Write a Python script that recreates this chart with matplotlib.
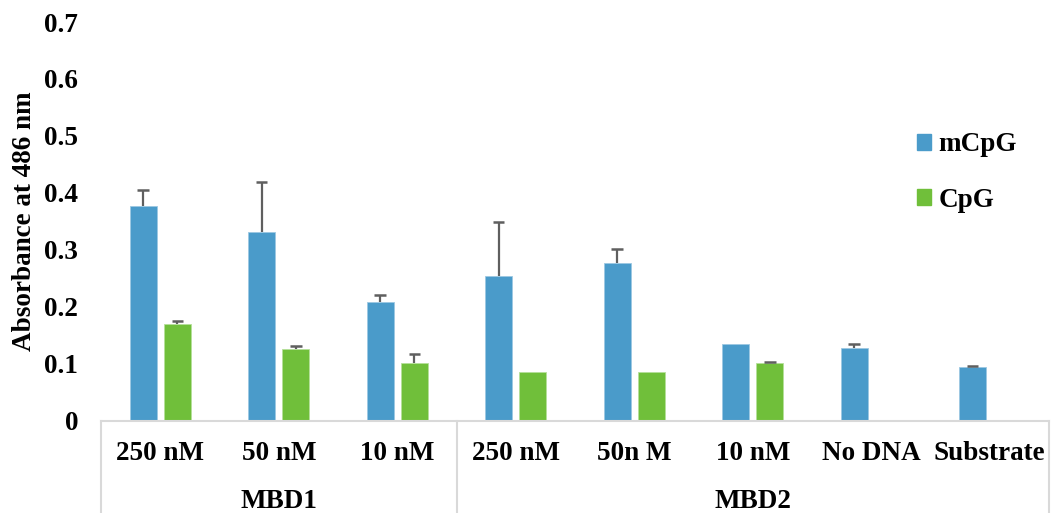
import numpy as np
import matplotlib
matplotlib.use("Agg")
import matplotlib.pyplot as plt
from matplotlib.lines import Line2D
from matplotlib.patches import Patch

# absorbance readings (mean) and upper error
categories = ['250 nM', '50 nM', '10 nM', '250 nM', '50n M', '10 nM', 'No DNA', 'Substrate']
groups = ['MBD1', 'MBD2']
group_spans = [(0, 2), (3, 7)]

mcpg = [0.376, 0.331, 0.209, 0.253, 0.277, 0.135, 0.128, 0.094]
mcpg_err = [0.029, 0.088, 0.012, 0.096, 0.025, 0.0, 0.007, 0.001]
cpg = [0.170, 0.126, 0.101, 0.085, 0.085, 0.101, np.nan, np.nan]
cpg_err = [0.005, 0.004, 0.015, 0.0, 0.0, 0.001, np.nan, np.nan]

blue = '#4A9BCA'
green = '#70BF3A'
grid_grey = '#D9D9D9'
err_grey = '#5F5F5F'
fs = 19.5

plt.rcParams['font.family'] = 'Liberation Serif'
plt.rcParams['font.weight'] = 'bold'

fig = plt.figure(figsize=(10.56, 5.13), dpi=100)
ax = fig.add_axes([101 / 1056, 92.5 / 513, 948 / 1056, 398.5 / 513])

x = np.arange(len(categories))
w = 0.228
off = 0.145
cap = 0.05


def up_errors(xpos, vals, errs):
    # one-sided (upward) error bars, cap only where there is an error
    for xi, v, e in zip(xpos, vals, errs):
        if np.isnan(v) or e <= 0:
            continue
        ax.vlines(xi, v, v + e, color=err_grey, linewidth=1.6, zorder=3)
        ax.hlines(v + e, xi - cap, xi + cap, color=err_grey, linewidth=1.8, zorder=3)


ax.bar(x - off, mcpg, w, color=blue, edgecolor='#9CC8E2', linewidth=0.6)
ax.bar(x + off, cpg, w, color=green, edgecolor='#B5E09A', linewidth=0.6)
up_errors(x - off, mcpg, mcpg_err)
up_errors(x + off, cpg, cpg_err)

ax.set_xlim(-0.5, len(categories) - 0.5)
ax.set_ylim(0, 0.7)
ax.set_yticks(np.arange(0, 0.71, 0.1))
ax.set_yticklabels(['0', '0.1', '0.2', '0.3', '0.4', '0.5', '0.6', '0.7'])
ax.tick_params(axis='y', length=0, pad=16.5, labelsize=fs)
ax.set_xticks([])

for s in ['top', 'right', 'left']:
    ax.spines[s].set_visible(False)
ax.spines['bottom'].set_color(grid_grey)
ax.spines['bottom'].set_linewidth(1.5)

ax.set_ylabel('Absorbance at 486 nm', fontsize=fs, fontweight='bold')
ax.yaxis.set_label_coords(-64 / 948, 0.5)

# two-level category axis
trans = ax.get_xaxis_transform()
for xi, lab in zip(x, categories):
    ax.text(xi, -0.082, lab, transform=trans, ha='center', va='center',
            fontsize=fs, fontweight='bold')
for g, (a, b) in zip(groups, group_spans):
    ax.text((a + b) / 2, -0.203, g, transform=trans, ha='center', va='center',
            fontsize=fs, fontweight='bold')
for xs in [-0.5, 2.5, len(categories) - 0.5]:
    ax.add_line(Line2D([xs, xs], [0, -0.235], transform=trans, color=grid_grey,
                       linewidth=1.5, clip_on=False))

handles = [Patch(color=blue), Patch(color=green)]
fig.legend(handles, ['mCpG', 'CpG'], loc='upper left',
           bbox_to_anchor=(893 / 1056, 1 - 108 / 513), frameon=False,
           handlelength=0.52, handleheight=0.52, handletextpad=0.25,
           labelspacing=1.12, prop={'weight': 'bold', 'size': fs})

fig.savefig('out.png', dpi=100)
